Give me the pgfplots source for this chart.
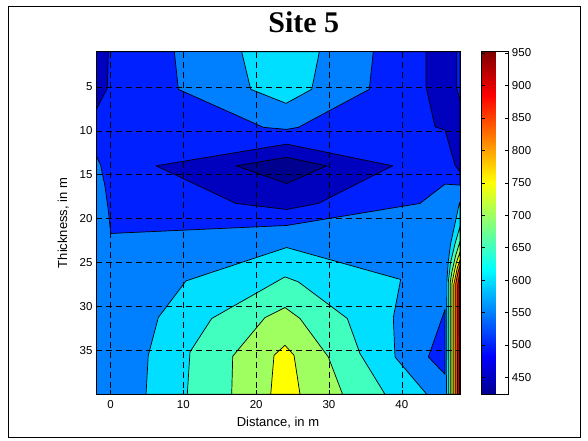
\documentclass[border=0pt]{standalone}
\usepackage{pgfplots}
\pgfplotsset{compat=1.18}
\usepackage{fontspec}
\setmainfont{Liberation Sans}
\newfontfamily\titlefont{Liberation Serif}
\definecolor{c424}{rgb}{0,0,0.5625}
\definecolor{c450}{rgb}{0,0,0.75}
\definecolor{c500}{rgb}{0,0.125,1}
\definecolor{c550}{rgb}{0,0.5,1}
\definecolor{c600}{rgb}{0,0.875,1}
\definecolor{c650}{rgb}{0.25,1,0.75}
\definecolor{c700}{rgb}{0.625,1,0.375}
\definecolor{c750}{rgb}{1,1,0}
\definecolor{c800}{rgb}{1,0.625,0}
\definecolor{c850}{rgb}{1,0.25,0}
\definecolor{c900}{rgb}{0.875,0,0}
\definecolor{c950}{rgb}{0.5,0,0}
\pgfplotsset{
  /pgf/number format/assume math mode=true,
  cf/.style={draw=black, line width=0.7pt, line join=round, fill=#1, mark=none},
  colormap={mjet}{rgb(0)=(0,0,0.5625) rgb(7)=(0,0,1) rgb(23)=(0,1,1) rgb(39)=(1,1,0) rgb(55)=(1,0,0) rgb(63)=(0.5,0,0)},
}
\begin{document}
\begin{tikzpicture}[x=1pt,y=1pt]
\useasboundingbox (0,0) rectangle (588,440);
\draw[line width=0.8pt] (8,3) rectangle (580,434);
\begin{axis}[
  at={(96pt,45.7pt)}, anchor=south west,
  scale only axis, width=364pt, height=342.6pt,
  xmin=-2, xmax=48, ymin=1, ymax=40, y dir=reverse,
  xtick={0,10,...,40}, ytick={5,10,...,35},
  grid=major,
  grid style={black, line width=0.5pt, dash pattern=on 6pt off 4pt},
  axis on top,
  tick align=inside, major tick length=4pt,
  tick style={black, line width=0.5pt},
  axis line style={line width=0.8pt},
  ticklabel style={font=\fontsize{11.5}{13}\selectfont},
  xticklabel style={yshift=-3pt},
  label style={font=\fontsize{13}{15}\selectfont},
  xlabel={Distance, in m},
  ylabel={Thickness, in m},
  xlabel style={at={(axis description cs:0.5,-0.0946)}, anchor=base},
  ylabel style={at={(axis description cs:-0.0898,0.5)}, anchor=center},
  title={\titlefont\bfseries Site 5},
  title style={at={(axis description cs:0.571,1.0391)}, anchor=base, font=\fontsize{30}{36}\selectfont},
  axis background/.style={fill=c550},
  colorbar, colormap name=mjet,
  point meta min=424, point meta max=952,
  colorbar style={
    at={(parent axis.north east)}, anchor=north west, xshift=13.2pt,
    scale only axis, width=26.7pt, height=342.6pt,
    ytick={450,500,...,950},
    ytick pos=both, yticklabel pos=right,
    tick align=inside, major tick length=3pt,
    tick style={black, line width=0.5pt},
    axis line style={line width=0.8pt},
    yticklabel style={font=\fontsize{11.5}{13}\selectfont},
  },
]
% --- below 550 (band 500-550)
\addplot[cf=c500] coordinates {(-2,1) (8.76,1) (9.31,5.28) (21.0,9.61) (24.19,9.84) (25.79,9.61) (35.54,5.28) (36.09,1) (48,1) (48,16.19) (45.94,16.07) (42.5,18.27) (24.19,20.78) (0.02,21.69) (-0.31,19.04) (-0.76,16.38) (-1.36,13.91) (-2,12.77)} -- cycle;
\addplot[cf=c500] coordinates {(45.94,30.35) (43.65,35.75) (45.94,37.72)} -- cycle;
% --- below 500 (band 450-500)
\addplot[cf=c450] coordinates {(-2,1) (-0.31,1) (-0.45,5.17) (-2,7.64)} -- cycle;
\addplot[cf=c450] coordinates {(43.33,1) (43.33,4.99) (44.57,9.55) (45.94,9.92) (47.31,13.91) (48,14.67) (48,6.5) (47.55,5.17) (47.55,1)} -- cycle;
\addplot[cf=c450] coordinates {(6.24,13.99) (24.19,11.52) (38.75,13.99) (28.54,18.27) (24.19,18.96) (17.23,18.27)} -- cycle;
% --- below 450
\addplot[cf=c424] coordinates {(17.23,13.99) (24.19,13.03) (29.69,13.99) (24.19,16.0)} -- cycle;
% --- above 600
\addplot[cf=c600] coordinates {(18.01,1) (19.25,5.28) (24.1,6.88) (27.63,5.28) (28.68,1)} -- cycle;
\addplot[cf=c600] coordinates {(4.87,40) (5.18,35.56) (6.56,31.26) (10.36,27.09) (24.19,23.29) (39.85,26.93) (38.84,31.26) (39.07,35.75) (43.43,40)} -- cycle;
\addplot[cf=c600] coordinates {(48,18.1) (47.9,18.3) (47.2,21.0) (46.7,22.9) (46.4,24.8) (46.2,27.0) (46.15,40) (48,40)} -- cycle;
% --- above 650
\addplot[cf=c650] coordinates {(10.54,40) (10.91,35.18) (13.89,31.37) (23.96,26.63) (25.79,27.2) (32.52,31.37) (34.26,35.36) (37.70,40)} -- cycle;
\addplot[cf=c650] coordinates {(48,20.9) (47.3,22.9) (46.7,25.0) (46.4,27.2) (46.4,40) (48,40)} -- cycle;
% --- above 700
\addplot[cf=c700] coordinates {(16.64,40) (16.78,35.67) (21.21,31.26) (23.96,30.12) (26.02,31.37) (29.91,35.75) (31.87,40)} -- cycle;
\addplot[cf=c700] coordinates {(48,22.6) (47.4,24.2) (46.9,26.0) (46.65,27.3) (46.65,40) (48,40)} -- cycle;
% --- above 750
\addplot[cf=c750] coordinates {(22.0,40) (22.45,35.56) (23.96,34.42) (25.2,35.56) (26.02,40)} -- cycle;
\addplot[cf=c750] coordinates {(48,23.8) (47.5,25.0) (47.1,26.5) (46.9,27.4) (46.9,40) (48,40)} -- cycle;
% --- above 800 .. 950
\addplot[cf=c800] coordinates {(48,24.7) (47.6,25.7) (47.3,26.9) (47.15,27.5) (47.15,40) (48,40)} -- cycle;
\addplot[cf=c850] coordinates {(48,25.3) (47.7,26.2) (47.4,27.5) (47.4,40) (48,40)} -- cycle;
\addplot[cf=c900] coordinates {(48,26.0) (47.7,27.5) (47.65,40) (48,40)} -- cycle;
\addplot[cf=c950] coordinates {(48,26.8) (47.88,27.6) (47.88,40) (48,40)} -- cycle;
\end{axis}
\end{tikzpicture}
\end{document}
